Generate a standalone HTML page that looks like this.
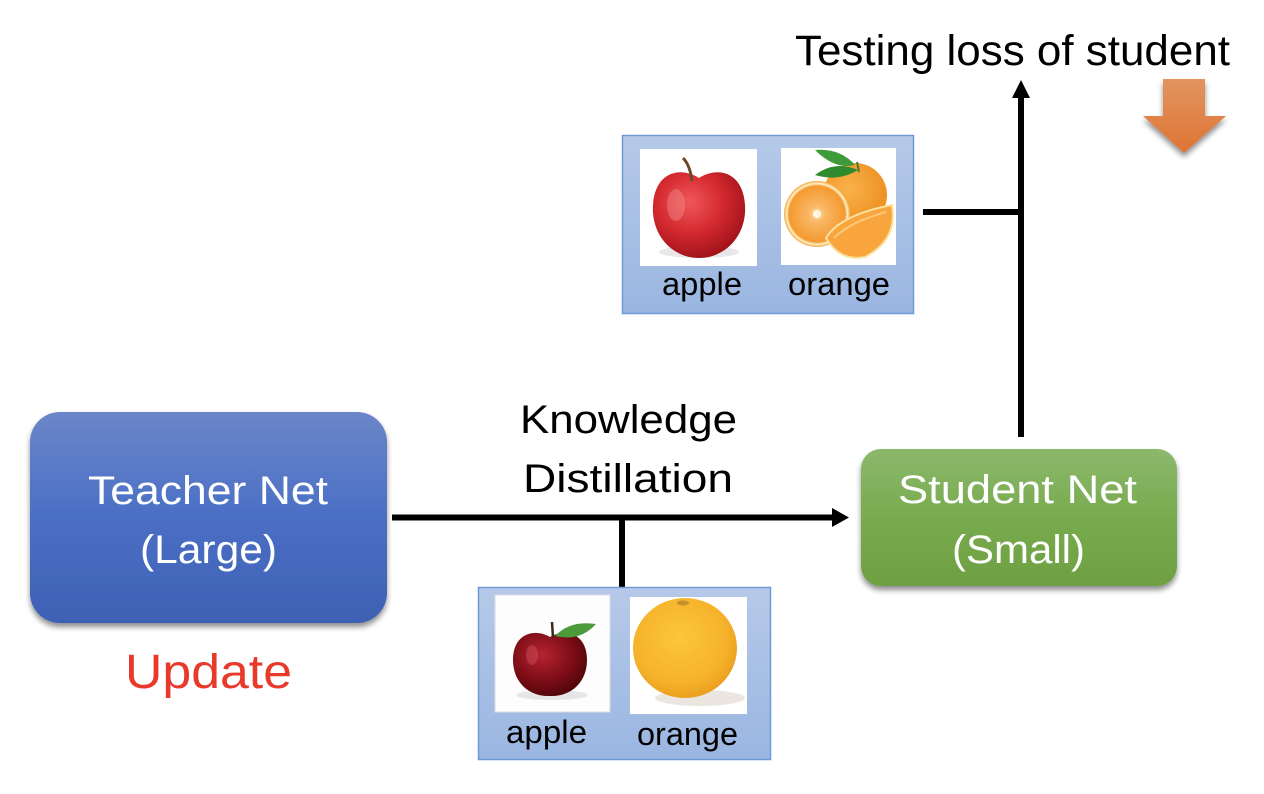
<!DOCTYPE html>
<html>
<head>
<meta charset="utf-8">
<style>
html,body{margin:0;padding:0;background:#fff;}
svg{display:block;}
text{font-family:"Liberation Sans",sans-serif;}
</style>
</head>
<body>
<svg width="1264" height="794" viewBox="0 0 1264 794" xmlns="http://www.w3.org/2000/svg">
<defs>
  <linearGradient id="gT" x1="0" y1="0" x2="0" y2="1">
    <stop offset="0" stop-color="#6b86c9"/>
    <stop offset="0.5" stop-color="#4a6fc5"/>
    <stop offset="1" stop-color="#3e61b4"/>
  </linearGradient>
  <linearGradient id="gS" x1="0" y1="0" x2="0" y2="1">
    <stop offset="0" stop-color="#8cb86c"/>
    <stop offset="0.5" stop-color="#78ab4f"/>
    <stop offset="1" stop-color="#6e9f42"/>
  </linearGradient>
  <linearGradient id="gB" x1="0" y1="0" x2="0" y2="1">
    <stop offset="0" stop-color="#b6c9e9"/>
    <stop offset="1" stop-color="#9ab6e1"/>
  </linearGradient>
  <linearGradient id="gO" x1="0" y1="0" x2="0" y2="1">
    <stop offset="0" stop-color="#e29460"/>
    <stop offset="1" stop-color="#de7433"/>
  </linearGradient>
  <radialGradient id="apple1" cx="0.4" cy="0.35" r="0.7">
    <stop offset="0" stop-color="#f0585a"/>
    <stop offset="0.5" stop-color="#d42a30"/>
    <stop offset="1" stop-color="#9c1018"/>
  </radialGradient>
  <radialGradient id="apple2" cx="0.4" cy="0.35" r="0.7">
    <stop offset="0" stop-color="#b52430"/>
    <stop offset="0.6" stop-color="#7c0c16"/>
    <stop offset="1" stop-color="#4c050a"/>
  </radialGradient>
  <radialGradient id="orange2" cx="0.45" cy="0.4" r="0.65">
    <stop offset="0" stop-color="#fcc63c"/>
    <stop offset="0.7" stop-color="#f5b22a"/>
    <stop offset="1" stop-color="#e89a1c"/>
  </radialGradient>
  <radialGradient id="orange1" cx="0.4" cy="0.4" r="0.7">
    <stop offset="0" stop-color="#f9b24a"/>
    <stop offset="1" stop-color="#ec8c1c"/>
  </radialGradient>
  <radialGradient id="slice" cx="0.5" cy="0.5" r="0.5">
    <stop offset="0" stop-color="#fde2b0"/>
    <stop offset="0.25" stop-color="#f9b766"/>
    <stop offset="0.85" stop-color="#f49a30"/>
    <stop offset="0.92" stop-color="#fff1c8"/>
    <stop offset="1" stop-color="#f2a63a"/>
  </radialGradient>
  <filter id="sh" x="-10%" y="-10%" width="120%" height="130%">
    <feGaussianBlur in="SourceAlpha" stdDeviation="3"/>
    <feOffset dx="0" dy="4" result="b"/>
    <feComponentTransfer><feFuncA type="linear" slope="0.45"/></feComponentTransfer>
    <feMerge><feMergeNode/><feMergeNode in="SourceGraphic"/></feMerge>
  </filter>
</defs>

<!-- Title -->
<text x="795" y="65" font-size="43" fill="#000" textLength="435" lengthAdjust="spacingAndGlyphs">Testing loss of student</text>

<!-- Orange down arrow -->
<polygon points="1163,79 1205,79 1205,116 1226,116 1184,153 1143,116 1163,116" fill="url(#gO)" filter="url(#sh)"/>

<!-- Vertical arrow -->
<line x1="1021" y1="437" x2="1021" y2="95" stroke="#000" stroke-width="6"/>
<polygon points="1012,98 1030,98 1021,80" fill="#000"/>
<line x1="923" y1="212" x2="1021" y2="212" stroke="#000" stroke-width="6"/>

<!-- Top fruit box -->
<rect x="622.5" y="135.5" width="291" height="178" fill="url(#gB)" stroke="#6e9bd7" stroke-width="1.5"/>
<rect x="640" y="149" width="117" height="117" fill="#fff"/>
<rect x="781" y="148" width="115" height="117" fill="#fff"/>
<!-- apple 1 -->
<ellipse cx="699" cy="252" rx="40" ry="6" fill="#e8e8ea"/>
<path d="M699,178 C680,166 655,172 653,205 C651,235 672,258 699,258 C726,258 747,235 745,205 C743,172 718,166 699,178 Z" fill="url(#apple1)"/>
<path d="M683,158 Q690,165 692,181" stroke="#6a4a2a" stroke-width="3" fill="none"/>
<ellipse cx="676" cy="205" rx="9" ry="16" fill="#f8a0a0" opacity="0.35"/>
<!-- orange 1 -->
<circle cx="855" cy="195" r="32" fill="url(#orange1)"/>
<path d="M815,150 Q840,148 855,165 Q835,170 815,150 Z" fill="#3f9a3a"/>
<path d="M815,175 Q835,160 858,170 Q838,182 815,175 Z" fill="#2f8a30"/>
<path d="M857,162 L859,172" stroke="#4a7a2a" stroke-width="2"/>
<circle cx="817" cy="214" r="33" fill="url(#slice)"/>
<circle cx="817" cy="214" r="4" fill="#fff5e0"/>
<path d="M826,238 Q840,215 892,205 Q898,240 865,257 Q840,262 826,238 Z" fill="#f7a53c" stroke="#fbe2a0" stroke-width="2"/>
<path d="M834,238 Q850,222 886,212" stroke="#fcc777" stroke-width="2" fill="none"/>
<text x="662" y="295" font-size="32" fill="#000" textLength="80" lengthAdjust="spacingAndGlyphs">apple</text>
<text x="788" y="295" font-size="32" fill="#000" textLength="102" lengthAdjust="spacingAndGlyphs">orange</text>

<!-- Teacher Net -->
<rect x="30" y="412" width="357" height="211" rx="30" ry="30" fill="url(#gT)" filter="url(#sh)"/>
<text x="88" y="504" font-size="40" fill="#fff" textLength="240" lengthAdjust="spacingAndGlyphs">Teacher Net</text>
<text x="140" y="563" font-size="40" fill="#fff" textLength="137" lengthAdjust="spacingAndGlyphs">(Large)</text>
<text x="125" y="688" font-size="48" fill="#e8392b" textLength="167" lengthAdjust="spacingAndGlyphs">Update</text>

<!-- Knowledge Distillation -->
<text x="520" y="433" font-size="40" fill="#000" textLength="217" lengthAdjust="spacingAndGlyphs">Knowledge</text>
<text x="523" y="492" font-size="40" fill="#000" textLength="210" lengthAdjust="spacingAndGlyphs">Distillation</text>
<line x1="392" y1="517.5" x2="834" y2="517.5" stroke="#000" stroke-width="6"/>
<polygon points="832,508 849,517.5 832,527" fill="#000"/>
<line x1="622" y1="517" x2="622" y2="587" stroke="#000" stroke-width="6"/>

<!-- Student Net -->
<rect x="861" y="449" width="316" height="137" rx="20" ry="20" fill="url(#gS)" filter="url(#sh)"/>
<text x="898" y="503" font-size="40" fill="#fff" textLength="239" lengthAdjust="spacingAndGlyphs">Student Net</text>
<text x="952" y="563" font-size="40" fill="#fff" textLength="133" lengthAdjust="spacingAndGlyphs">(Small)</text>

<!-- Bottom fruit box -->
<rect x="478.5" y="587.5" width="292" height="172" fill="url(#gB)" stroke="#6e9bd7" stroke-width="1.5"/>
<rect x="495" y="595" width="115" height="117" fill="#fdfdfd" stroke="#d8dbe0" stroke-width="1"/>
<rect x="630" y="597" width="117" height="117" fill="#fff"/>
<!-- apple 2 -->
<ellipse cx="552" cy="695" rx="36" ry="5" fill="#e6e6e8"/>
<path d="M550,637 C535,628 513,633 513,660 C513,683 530,697 550,696 C570,697 587,683 587,660 C587,633 565,628 550,637 Z" fill="url(#apple2)"/>
<path d="M552,622 L553,638" stroke="#3a2a1a" stroke-width="2.5"/>
<path d="M555,636 Q570,620 596,624 Q580,642 555,636 Z" fill="#4d9a3a"/>
<ellipse cx="532" cy="655" rx="6" ry="10" fill="#e06070" opacity="0.35"/>
<!-- orange 2 -->
<ellipse cx="700" cy="698" rx="45" ry="8" fill="#ebe6e0"/>
<ellipse cx="685" cy="648" rx="52" ry="50" fill="url(#orange2)"/>
<ellipse cx="683" cy="603" rx="6" ry="2.5" fill="#c7902a"/>
<text x="506" y="743" font-size="32" fill="#000" textLength="81" lengthAdjust="spacingAndGlyphs">apple</text>
<text x="637" y="745" font-size="32" fill="#000" textLength="101" lengthAdjust="spacingAndGlyphs">orange</text>
</svg>
</body>
</html>
